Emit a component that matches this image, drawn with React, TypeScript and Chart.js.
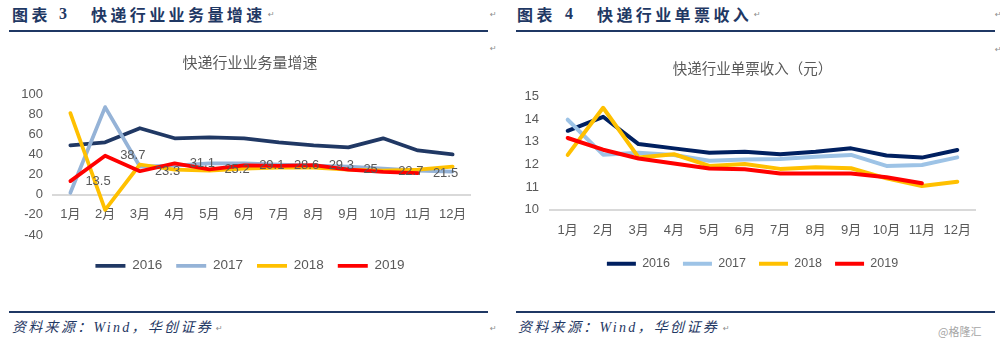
import React, { useEffect, useRef } from "react";
import { Chart, registerables } from "chart.js";

Chart.register(...registerables);

// ---------- data ----------
const months = ["1月", "2月", "3月", "4月", "5月", "6月", "7月", "8月", "9月", "10月", "11月", "12月"];
const seriesYears = ["2016", "2017", "2018", "2019"];

// 快递行业业务量增速 (%)
const volume2016 = [49, 52, 66, 56, 57, 56, 52, 49, 47, 56, 44, 40];
const volume2017 = [2, 87, 28, 29, 31, 31, 30, 29, 28, 26, 24, 23];
const volume2018 = [81, -15, 30, 25, 24, 26, 27, 27, 25, 24, 25, 28];
const volume2019 = [13.5, 38.7, 23.3, 31.1, 25.2, 29.1, 28.6, 29.3, 25, 22.7, 21.5, null];
const volumeMin = -40;
const volumeMax = 100;
const volumeStep = 20;

// 快递行业单票收入 (元)
const price2016 = [13.49, 14.11, 12.9, 12.71, 12.52, 12.56, 12.45, 12.56, 12.71, 12.39, 12.3, 12.64];
const price2017 = [13.98, 12.43, 12.52, 12.42, 12.16, 12.22, 12.24, 12.34, 12.42, 11.93, 11.97, 12.31];
const price2018 = [12.42, 14.51, 12.31, 12.45, 11.93, 12.02, 11.8, 11.87, 11.83, 11.38, 11.04, 11.23];
const price2019 = [13.17, 12.65, 12.26, 12.04, 11.82, 11.78, 11.6, 11.6, 11.6, 11.43, 11.16, null];
const priceMin = 10;
const priceMax = 15;
const priceStep = 1;

const volumeColors = ["#203864", "#95B3D7", "#FFC000", "#FF0000"];
const priceColors = ["#002060", "#9DC3E6", "#FFC000", "#FF0000"];

const TICK_FONT = "'Liberation Sans', 'Noto Sans CJK SC', sans-serif";
const CJK_FONT = "'Noto Sans CJK SC', sans-serif";
const NAVY = "#1F3864";
const GREY_TEXT = "#595959";

function makeDatasets(values: (number | null)[][], colors: string[], width: number) {
  return values.map((data, i) => ({
    label: seriesYears[i],
    data,
    borderColor: colors[i],
    backgroundColor: colors[i],
    borderWidth: width,
    pointRadius: 0,
    pointHoverRadius: 0,
    tension: 0,
    fill: false,
    borderCapStyle: "round",
    borderJoinStyle: "round",
    order: values.length - i,
  }));
}

const redLabelPlugin = {
  id: "redLabels",
  afterDatasetsDraw(chart: any) {
    const meta = chart.getDatasetMeta(3);
    const ctx = chart.ctx;
    ctx.save();
    ctx.font = `13px ${TICK_FONT}`;
    ctx.fillStyle = GREY_TEXT;
    ctx.textAlign = "left";
    ctx.textBaseline = "middle";
    meta.data.forEach((pt: any, i: number) => {
      const v = volume2019[i];
      if (v === null || v === undefined) return;
      ctx.fillText(String(v), pt.x + 15, pt.y);
    });
    ctx.restore();
  },
};

function volumeConfig(): any {
  return {
    type: "line",
    data: {
      labels: months,
      datasets: makeDatasets([volume2016, volume2017, volume2018, volume2019], volumeColors, 3.75),
    },
    plugins: [redLabelPlugin],
    options: {
      responsive: false,
      animation: false,
      layout: { padding: { left: 20, right: 20, top: 0, bottom: 7.5 } },
      plugins: {
        tooltip: { enabled: false },
        title: {
          display: true,
          text: "快递行业业务量增速",
          color: GREY_TEXT,
          font: { family: CJK_FONT, size: 15, weight: "normal" },
          padding: { top: 13, bottom: 23 },
        },
        legend: {
          position: "bottom",
          labels: {
            usePointStyle: true,
            pointStyle: "line",
            pointStyleWidth: 30,
            padding: 14,
            color: GREY_TEXT,
            font: { family: TICK_FONT, size: 13.5 },
            sort: (a: any, b: any) => a.datasetIndex - b.datasetIndex,
          },
        },
      },
      scales: {
        x: {
          type: "category",
          offset: true,
          position: { y: 0 },
          grid: { display: false, drawTicks: false, offset: true },
          border: { display: true, color: "#D9D9D9", width: 2 },
          ticks: { padding: 12, color: GREY_TEXT, font: { family: TICK_FONT, size: 13 }, maxRotation: 0, autoSkip: false },
        },
        y: {
          min: volumeMin,
          max: volumeMax,
          grid: { display: false, drawTicks: false },
          border: { display: false },
          ticks: { stepSize: volumeStep, padding: 10, color: GREY_TEXT, font: { family: TICK_FONT, size: 13 } },
          afterFit: (s: any) => { s.width = 33; },
        },
        yR: {
          type: "linear",
          position: "right",
          display: true,
          grid: { display: false, drawTicks: false },
          border: { display: false },
          ticks: { display: false },
          afterFit: (s: any) => { s.width = 10; },
        },
        xPad: {
          type: "category",
          labels: [""],
          position: "bottom",
          display: true,
          grid: { display: false, drawTicks: false },
          border: { display: false },
          ticks: { display: false },
          afterFit: (s: any) => { s.height = 10; },
        },
      },
    },
  };
}

function priceConfig(): any {
  return {
    type: "line",
    data: {
      labels: months,
      datasets: makeDatasets([price2016, price2017, price2018, price2019], priceColors, 4),
    },
    options: {
      responsive: false,
      animation: false,
      layout: { padding: { left: 15, right: 15, top: 0, bottom: 10 } },
      plugins: {
        tooltip: { enabled: false },
        title: {
          display: true,
          text: "快递行业单票收入（元）",
          color: GREY_TEXT,
          font: { family: CJK_FONT, size: 14.5, weight: "normal" },
          padding: { top: 19.3, bottom: 20 },
        },
        legend: {
          position: "bottom",
          labels: {
            usePointStyle: true,
            pointStyle: "line",
            pointStyleWidth: 29,
            padding: 13,
            color: GREY_TEXT,
            font: { family: TICK_FONT, size: 12.5 },
            sort: (a: any, b: any) => a.datasetIndex - b.datasetIndex,
          },
        },
      },
      scales: {
        x: {
          type: "category",
          offset: true,
          position: "bottom",
          grid: { display: false, drawTicks: false, offset: true },
          border: { display: true, color: "#D9D9D9", width: 2 },
          ticks: { padding: 13.5, color: GREY_TEXT, font: { family: TICK_FONT, size: 13 }, maxRotation: 0, autoSkip: false },
          afterFit: (s: any) => { s.height = 35; },
        },
        y: {
          min: priceMin,
          max: priceMax,
          grid: { display: false, drawTicks: false },
          border: { display: false },
          ticks: { stepSize: priceStep, padding: 11, color: GREY_TEXT, font: { family: TICK_FONT, size: 13 } },
          afterFit: (s: any) => { s.width = 30; },
        },
        yR: {
          type: "linear",
          position: "right",
          display: true,
          grid: { display: false, drawTicks: false },
          border: { display: false },
          ticks: { display: false },
          afterFit: (s: any) => { s.width = 10; },
        },
      },
    },
  };
}

function ChartCanvas({ makeConfig, left, top, width, height }: any) {
  const ref = useRef<HTMLCanvasElement>(null);
  useEffect(() => {
    const chart = new Chart(ref.current as HTMLCanvasElement, makeConfig());
    return () => chart.destroy();
  }, []);
  return (
    <canvas
      ref={ref}
      width={width}
      height={height}
      style={{ position: "absolute", left, top, width, height }}
    />
  );
}

function Txt({ x, y, size, children, style }: any) {
  return (
    <span
      style={{
        position: "absolute",
        left: x,
        top: y - size / 2,
        fontSize: size,
        lineHeight: `${size}px`,
        whiteSpace: "nowrap",
        ...style,
      }}
    >
      {children}
    </span>
  );
}

const headStyle = { fontFamily: CJK_FONT, fontWeight: 700, color: NAVY, letterSpacing: "3.4px" };
const numStyle = { fontFamily: "'Liberation Serif', serif", fontWeight: 700, color: NAVY };
const footStyle = {
  fontFamily: "'Liberation Serif', 'Noto Sans CJK SC', serif",
  fontStyle: "italic",
  color: NAVY,
  letterSpacing: "2.3px",
};
const markStyle = { fontFamily: "'DejaVu Sans', sans-serif", color: "#8C8C8C" };

function Rule({ x, y, w, h }: any) {
  return <div style={{ position: "absolute", left: x, top: y, width: w, height: h, background: NAVY }} />;
}

export default function App() {
  return (
    <div
      style={{
        position: "absolute",
        left: 0,
        top: 0,
        width: 1000,
        height: 350,
        background: "#FFFFFF",
        overflow: "hidden",
      }}
    >
      {/* left header */}
      <Txt x={12} y={14} size={16} style={headStyle}>图表</Txt>
      <Txt x={59} y={14} size={16} style={numStyle}>3</Txt>
      <Txt x={91} y={14} size={16} style={headStyle}>快递行业业务量增速</Txt>
      <Txt x={268} y={15} size={8} style={markStyle}>↵</Txt>
      <Txt x={490} y={15} size={8} style={markStyle}>↵</Txt>
      <Txt x={490} y={49} size={8} style={markStyle}>↵</Txt>
      <Rule x={9} y={29.5} w={479} h={2} />

      {/* right header */}
      <Txt x={517} y={14} size={16} style={headStyle}>图表</Txt>
      <Txt x={565} y={14} size={16} style={numStyle}>4</Txt>
      <Txt x={597} y={14} size={16} style={headStyle}>快递行业单票收入</Txt>
      <Txt x={754} y={15} size={8} style={markStyle}>↵</Txt>
      <Txt x={995} y={15} size={8} style={markStyle}>↵</Txt>
      <Txt x={995} y={50} size={8} style={markStyle}>↵</Txt>
      <Rule x={516} y={29.5} w={479} h={2} />

      <ChartCanvas makeConfig={volumeConfig} left={0} top={40} width={500} height={250} />
      <ChartCanvas makeConfig={priceConfig} left={505} top={40} width={495} height={250} />

      {/* footers */}
      <Rule x={9} y={311} w={479} h={1.5} />
      <Rule x={516} y={311} w={479} h={1.5} />
      <Txt x={12} y={328} size={14} style={footStyle}>资料来源：Wind，华创证券</Txt>
      <Txt x={216} y={329} size={8} style={markStyle}>↵</Txt>
      <Txt x={490} y={329} size={8} style={markStyle}>↵</Txt>
      <Txt x={518} y={328} size={14} style={footStyle}>资料来源：Wind，华创证券</Txt>
      <Txt x={723} y={329} size={8} style={markStyle}>↵</Txt>
      <Txt x={938} y={331} size={11} style={{ fontFamily: CJK_FONT, color: "#A6A6A6" }}>@格隆汇</Txt>
    </div>
  );
}
